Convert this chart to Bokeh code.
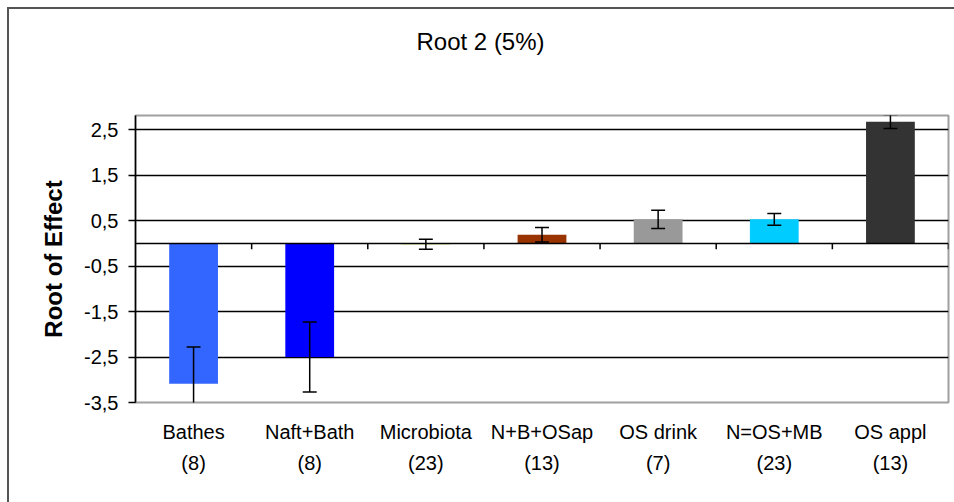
from bokeh.plotting import figure
from bokeh.models import (Range1d, LinearAxis, FixedTicker, CustomJSTickFormatter, Span, Title)
from bokeh.embed import file_html
from bokeh.resources import INLINE

# Mean root of effect per treatment group, with its error bar half-width
categories = ["Bathes", "Naft+Bath", "Microbiota", "N+B+OSap", "OS drink", "N=OS+MB", "OS appl"]
counts = ["(8)", "(8)", "(23)", "(13)", "(7)", "(23)", "(13)"]
effects = [-3.09, -2.50, -0.02, 0.19, 0.53, 0.53, 2.68]
errors = [0.81, 0.77, 0.11, 0.16, 0.20, 0.13, 0.15]
colors = ["#3366FF", "#0000FF", "#99CC00", "#993300", "#999999", "#00CCFF", "#333333"]
y_ticks = [-3.5, -2.5, -1.5, -0.5, 0.5, 1.5, 2.5]

FONT = "Liberation Sans"
n = len(categories)
centers = [i + 0.5 for i in range(n)]

W, H = 954, 502
LEFT, RIGHT, TOP, BOTTOM = 135, 6, 115, 100

p = figure(width=W, height=H, output_backend="svg", toolbar_location=None,
           x_range=Range1d(0, n), y_range=Range1d(-3.5, 2.815),
           x_axis_location=None, y_axis_location="left",
           min_border_left=LEFT, min_border_right=RIGHT, min_border_top=TOP, min_border_bottom=BOTTOM)
p.background_fill_color = "white"
p.border_fill_color = None
p.outline_line_color = "#a0a0a0"
p.outline_line_width = 2

# outer chart border: left and top edges, running off the page to the right and bottom
p.styles = {
    "background-color": "white",
    "background-image": "linear-gradient(#555555, #555555), linear-gradient(#555555, #555555)",
    "background-size": "2px 100%, 100% 2px",
    "background-position": "7px 7px, 7px 7px",
    "background-repeat": "no-repeat",
}

# main title (outermost), with a blank title slot under it that only adds space
p.title.text = "Root 2 (5%)"
p.title.align = "left"
p.title.offset = 281
p.title.text_font = FONT
p.title.text_font_size = "24px"
p.title.text_font_style = "normal"
p.title.text_color = "black"
p.title.standoff = 50
p.add_layout(Title(text=" ", text_font_size="1px", standoff=33), "above")

# y axis with comma decimals
yax = p.yaxis[0]
yax.ticker = FixedTicker(ticks=y_ticks)
yax.formatter = CustomJSTickFormatter(code="return tick.toFixed(1).replace('.', ',');")
yax.axis_line_color = "black"
yax.axis_line_width = 1.5
yax.major_tick_line_color = "black"
yax.major_tick_line_width = 1.5
yax.major_tick_out = 7
yax.major_tick_in = 0
yax.minor_tick_line_color = None
yax.major_label_standoff = 10
yax.major_label_text_font = FONT
yax.major_label_text_font_size = "20px"
yax.major_label_text_color = "black"
yax.axis_label = "Root of Effect"
yax.axis_label_text_font = FONT
yax.axis_label_text_font_size = "24px"
yax.axis_label_text_font_style = "bold"
yax.axis_label_text_color = "black"
yax.axis_label_standoff = 14

# horizontal grid
p.xgrid.grid_line_color = None
p.ygrid.ticker = FixedTicker(ticks=[t for t in y_ticks if t > -3.5])
p.ygrid.grid_line_color = "black"
p.ygrid.grid_line_width = 1.5

# category names and group sizes on two stacked bottom axes
name_axis = LinearAxis(ticker=FixedTicker(ticks=centers),
                       formatter=CustomJSTickFormatter(args=dict(names=categories),
                                                       code="return names[Math.floor(tick)];"))
count_axis = LinearAxis(ticker=FixedTicker(ticks=centers),
                        formatter=CustomJSTickFormatter(args=dict(names=counts),
                                                        code="return names[Math.floor(tick)];"))
for ax, standoff in ((name_axis, 18), (count_axis, 6)):
    ax.axis_line_color = None
    ax.major_tick_line_color = None
    ax.minor_tick_line_color = None
    ax.major_tick_out = 0
    ax.major_tick_in = 0
    ax.major_label_standoff = standoff
    ax.major_label_text_font = FONT
    ax.major_label_text_font_size = "20px"
    ax.major_label_text_color = "black"
    p.add_layout(ax, "below")

# bars
p.vbar(x=centers, top=effects, bottom=0, width=0.42, fill_color=colors, line_color=None)

# zero line with category separator ticks
p.add_layout(Span(location=0, dimension="width", line_color="black", line_width=1.5))
bounds = list(range(1, n + 1))
p.segment(x0=bounds, y0=[0] * n, x1=bounds, y1=[-0.13] * n, line_color="black", line_width=1.5)

# error bars
lows = [e - s for e, s in zip(effects, errors)]
highs = [e + s for e, s in zip(effects, errors)]
p.segment(x0=centers, y0=lows, x1=centers, y1=highs, line_color="black", line_width=1.5)
cap = 0.06
for ys in (lows, highs):
    p.segment(x0=[c - cap for c in centers], y0=ys, x1=[c + cap for c in centers], y1=ys,
              line_color="black", line_width=1.5)

open("out.html", "w").write(file_html(p, INLINE))
